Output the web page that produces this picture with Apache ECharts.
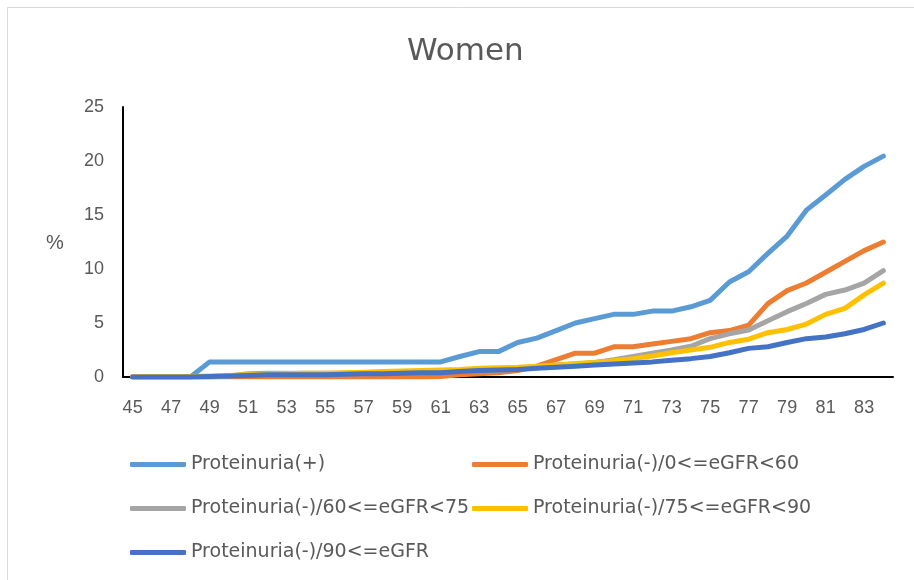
<!DOCTYPE html>
<html>
<head>
<meta charset="utf-8">
<script src="https://cdn.jsdelivr.net/npm/echarts@6/dist/echarts.min.js"></script>
<style>
html,body{margin:0;padding:0;background:#fff;}
#c{width:914px;height:580px;}
</style>
</head>
<body>
<div id="c"></div>
<script>
const ages = [45,46,47,48,49,50,51,52,53,54,55,56,57,58,59,60,61,62,63,64,65,66,67,68,69,70,71,72,73,74,75,76,77,78,79,80,81,82,83,84];
const yTicks = [0,5,10,15,20,25];
const seriesNames = ['Proteinuria(+)','Proteinuria(-)/0<=eGFR<60','Proteinuria(-)/60<=eGFR<75','Proteinuria(-)/75<=eGFR<90','Proteinuria(-)/90<=eGFR'];
const protPos = [0,0,0,0,1.4,1.4,1.4,1.4,1.4,1.4,1.4,1.4,1.4,1.4,1.4,1.4,1.4,1.9,2.35,2.35,3.2,3.6,4.3,5.0,5.4,5.8,5.8,6.1,6.1,6.5,7.1,8.8,9.75,11.45,13.05,15.45,16.85,18.3,19.5,20.45];
const egfr0_60 = [0,0,0,0,0,0,0,0,0,0,0,0,0,0,0,0,0.05,0.2,0.3,0.4,0.6,1.0,1.6,2.2,2.2,2.8,2.8,3.05,3.3,3.55,4.1,4.3,4.8,6.8,8.0,8.7,9.7,10.7,11.7,12.5];
const egfr60_75 = [0,0,0,0,0,0.1,0.3,0.35,0.35,0.35,0.35,0.35,0.4,0.4,0.45,0.45,0.5,0.55,0.6,0.65,0.7,0.9,1.1,1.2,1.35,1.6,1.9,2.2,2.5,2.85,3.55,4.0,4.35,5.2,6.05,6.8,7.65,8.05,8.7,9.85];
const egfr75_90 = [0.05,0.05,0.05,0.05,0.1,0.15,0.2,0.25,0.3,0.35,0.35,0.4,0.45,0.5,0.55,0.6,0.65,0.7,0.8,0.85,0.9,1.0,1.1,1.25,1.35,1.5,1.7,1.95,2.25,2.5,2.75,3.2,3.5,4.1,4.4,4.9,5.8,6.35,7.6,8.7];
const egfr90 = [0,0,0,0,0.05,0.1,0.15,0.2,0.2,0.2,0.2,0.25,0.3,0.3,0.35,0.4,0.4,0.5,0.6,0.65,0.7,0.8,0.9,1.0,1.1,1.2,1.3,1.4,1.55,1.7,1.9,2.25,2.65,2.8,3.2,3.55,3.7,4.0,4.4,5.0];
const colors = ['#5b9bd5','#ed7d31','#a5a5a5','#ffc000','#4472c4'];
const dataSets = [protPos, egfr0_60, egfr60_75, egfr75_90, egfr90];

const txt = '#595959';
const wideFont = '"DejaVu Sans", sans-serif';
const tickFont = '"Liberation Sans", Arial, sans-serif';

const legendPos = [
  {left:130, top:455},
  {left:472, top:455},
  {left:130, top:499},
  {left:472, top:499},
  {left:130, top:543}
];

const chart = echarts.init(document.getElementById('c'));
chart.setOption({
  animation:false,
  backgroundColor:'#fff',
  title:{text:'Women', left:407, top:36, padding:0, textStyle:{fontFamily:wideFont, fontSize:31, fontWeight:'normal', color:txt}},
  legend: seriesNames.map((n,i)=>({
    data:[n], left:legendPos[i].left, top:legendPos[i].top, padding:0,
    icon:'roundRect', itemWidth:56, itemHeight:5, itemGap:0,
    textStyle:{fontFamily:wideFont, fontSize:19, color:txt}
  })),
  grid:{left:123, right:21, top:107, bottom:203, containLabel:false},
  xAxis:{
    type:'category', data:ages, boundaryGap:true,
    axisLine:{lineStyle:{color:'#000', width:2}},
    axisTick:{show:false},
    axisLabel:{interval:1, color:txt, fontSize:18, fontFamily:tickFont, margin:22}
  },
  yAxis:{
    type:'value', min:0, max:25, interval:5,
    axisLine:{show:true, lineStyle:{color:'#000', width:2}},
    axisTick:{show:false},
    splitLine:{show:false},
    axisLabel:{color:txt, fontSize:18, fontFamily:tickFont, margin:19,
      formatter:v=>yTicks.includes(v)?String(v):''}
  },
  graphic:[
    {type:'rect', shape:{x:7.5,y:7.5,width:920,height:590}, style:{fill:'none', stroke:'#d9d9d9', lineWidth:1}, silent:true, z:-1},
    {type:'text', left:46, top:233, style:{text:'%', fontFamily:tickFont, fontSize:20, fill:txt}}
  ],
  series: seriesNames.map((n,i)=>({
    name:n, type:'line', data:dataSets[i], symbol:'none',
    lineStyle:{width:5, color:colors[i], cap:'round', join:'round'},
    itemStyle:{color:colors[i]}, z:2+i
  }))
});
</script>
</body>
</html>
